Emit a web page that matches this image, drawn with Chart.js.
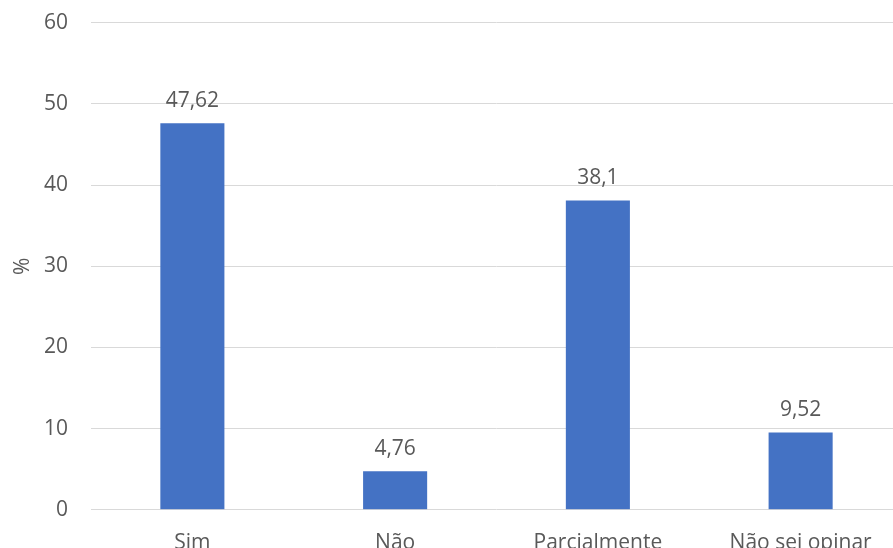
<!DOCTYPE html>
<html lang="pt">
  <head>
    <meta charset="UTF-8" />
    <script src="https://cdn.jsdelivr.net/npm/chart.js@4/dist/chart.umd.min.js"></script>
    <style>
      body {
        margin: 0;
        overflow: hidden;
        background: #fff;
      }
      #chart-container {
        position: absolute;
        left: 0;
        top: -13px;
        width: 902px;
        height: 594px;
      }
    </style>
    <title>Chart</title>
  </head>
  <body>
    <div id="chart-container">
      <canvas id="chart"></canvas>
    </div>
    <script>
      const categories = ["Sim", "Não", "Parcialmente", "Não sei opinar"];
      const values = [47.62, 4.76, 38.1, 9.52];
      const yTicks = [0, 10, 20, 30, 40, 50, 60];

      const textColor = "#595959";
      const font = { family: "'Open Sans', sans-serif", size: 21 };

      // value labels above each bar, comma as decimal separator
      const barLabels = {
        id: "bar_labels",
        afterDatasetsDraw: (chart) => {
          const ctx = chart.ctx;
          const meta = chart.getDatasetMeta(0);
          ctx.save();
          ctx.font = "21px 'Open Sans', sans-serif";
          ctx.fillStyle = textColor;
          ctx.textAlign = "center";
          ctx.textBaseline = "bottom";
          meta.data.forEach((bar, i) => {
            const txt = String(values[i]).replace(".", ",");
            ctx.fillText(txt, bar.x, bar.y - 12);
          });
          ctx.restore();
        },
      };

      const config = {
        type: "bar",
        data: {
          labels: categories,
          datasets: [
            {
              label: "%",
              data: values,
              backgroundColor: "#4472c4",
              categoryPercentage: 1,
              barPercentage: 0.316,
            },
          ],
        },
        options: {
          responsive: true,
          maintainAspectRatio: false,
          animation: false,
          layout: { padding: { left: 10, top: 0, right: 0, bottom: 12 } },
          plugins: {
            legend: { display: false },
            tooltip: { enabled: false },
          },
          scales: {
            x: {
              grid: { display: false },
              border: { display: false },
              ticks: { color: textColor, font, padding: 13 },
            },
            y: {
              min: 0,
              max: 60,
              afterBuildTicks: (scale) => {
                scale.ticks = yTicks.map((v) => ({ value: v }));
              },
              afterFit: (scale) => {
                scale.width = 81;
              },
              grid: { color: "#d9d9d9", drawTicks: false },
              border: { display: false },
              ticks: { color: textColor, font, padding: 23 },
              title: {
                display: true,
                text: "%",
                color: textColor,
                font,
                padding: { top: 0, bottom: 12 },
              },
            },
          },
        },
        plugins: [barLabels],
      };

      const chart = new Chart(document.getElementById("chart"), config);
    </script>
  </body>
</html>
